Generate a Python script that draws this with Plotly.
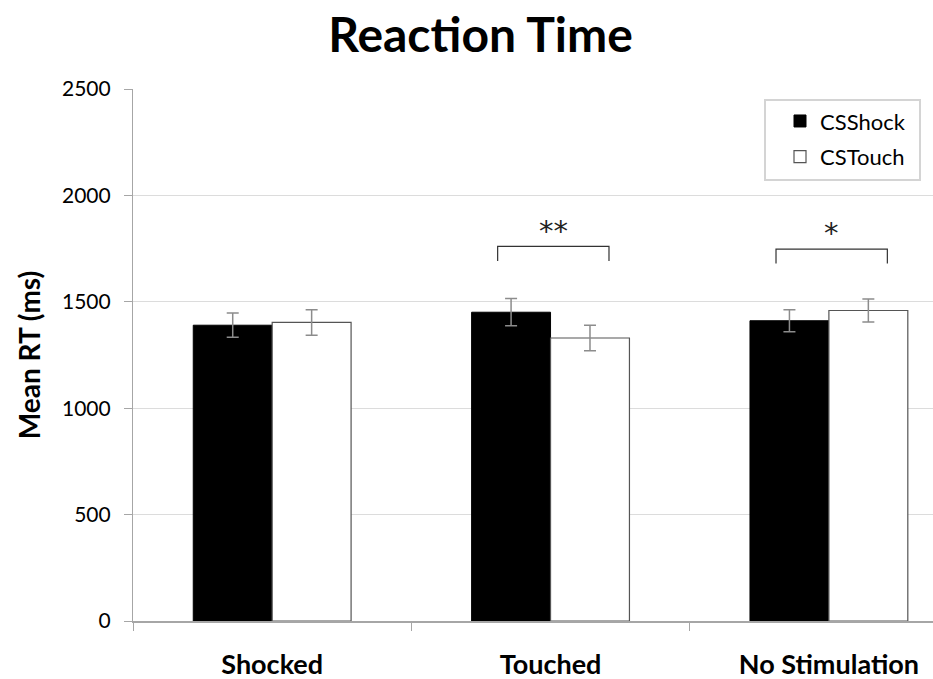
import plotly.graph_objects as go

categories = ["Shocked", "Touched", "No Stimulation"]
cs_shock = [1390, 1451, 1411]
cs_shock_err = [57, 64, 52]
cs_touch = [1403, 1330, 1459]
cs_touch_err = [60, 60, 54]
# significance brackets: (category index, bracket top value, leg bottom value, label)
sig_cat = [1, 2]
sig_top = [1760, 1748]
sig_leg = [1692, 1680]
sig_label = ["**", "*"]

FONT = "Lato"

fig = go.Figure()
fig.add_trace(go.Bar(
    x=categories, y=cs_shock, name="CSShock", legendgroup="a",
    marker=dict(color="black", line=dict(color="black", width=1)),
    error_y=dict(type="data", array=cs_shock_err, color="#8c8c8c", thickness=1.5, width=6),
))
fig.add_trace(go.Bar(
    x=categories, y=cs_touch, name="CSTouch", legendgroup="b",
    marker=dict(color="white", line=dict(color="#555555", width=1.2)),
    error_y=dict(type="data", array=cs_touch_err, color="#8c8c8c", thickness=1.5, width=6),
))

for c, top, leg, lab in zip(sig_cat, sig_top, sig_leg, sig_label):
    x0, x1 = c - 0.19, c + 0.21
    fig.add_shape(type="path", xref="x", yref="y",
                  path=f"M {x0},{leg} L {x0},{top} L {x1},{top} L {x1},{leg}",
                  line=dict(color="#333333", width=1.2))
    fig.add_annotation(x=(x0 + x1) / 2, y=top - 15, xref="x", yref="y",
                       text=lab, showarrow=False, yanchor="bottom",
                       font=dict(family="DejaVu Sans", size=29, color="#222222"))

# legend frame
fig.add_shape(type="rect", xref="paper", yref="paper",
              x0=(765 - 133) / 800, x1=(920 - 133) / 800,
              y0=(621 - 180) / 532, y1=(621 - 100) / 532,
              line=dict(color="#d4d4d4", width=2), fillcolor="rgba(0,0,0,0)", layer="above")

fig.update_layout(
    width=933, height=679,
    margin=dict(l=133, r=0, t=89, b=58),
    paper_bgcolor="white", plot_bgcolor="white",
    barmode="group", bargap=0.433, bargroupgap=0,
    title=dict(text="<b>Reaction Time</b>", x=0.515, xanchor="center", y=0.948, yanchor="middle",
               font=dict(family=FONT, size=48, color="black")),
    font=dict(family=FONT, color="black"),
    legend=dict(x=(780 - 133) / 800, y=0.979, xanchor="left", yanchor="top",
                borderwidth=0, bgcolor="rgba(0,0,0,0)",
                font=dict(family=FONT, size=22, color="black"),
                itemwidth=30, tracegroupgap=4),
    showlegend=True,
)
fig.update_xaxes(
    range=[-0.5, 2.374], showgrid=False,
    showline=True, linecolor="#a6a6a6", linewidth=1.5,
    ticks="outside", tickson="boundaries", ticklen=8, tickcolor="#a6a6a6",
    tickfont=dict(family=FONT, size=27, color="black"),
    ticklabelstandoff=19,
    tickprefix="<b>", ticksuffix="</b>",
)
fig.update_yaxes(
    range=[0, 2500], dtick=500, showgrid=True, gridcolor="#dcdcdc", gridwidth=1,
    showline=True, linecolor="#a6a6a6", linewidth=1.2,
    ticks="outside", ticklen=8, tickcolor="#a6a6a6",
    tickfont=dict(family=FONT, size=21, color="black"),
    ticklabelstandoff=9,
    zeroline=False,
    title=dict(text="<b>Mean RT (ms)</b>", font=dict(family=FONT, size=28, color="black"), standoff=13),
)

fig.write_html("out.html", config={"displayModeBar": False},
               post_script="document.body.style.margin='0';")
